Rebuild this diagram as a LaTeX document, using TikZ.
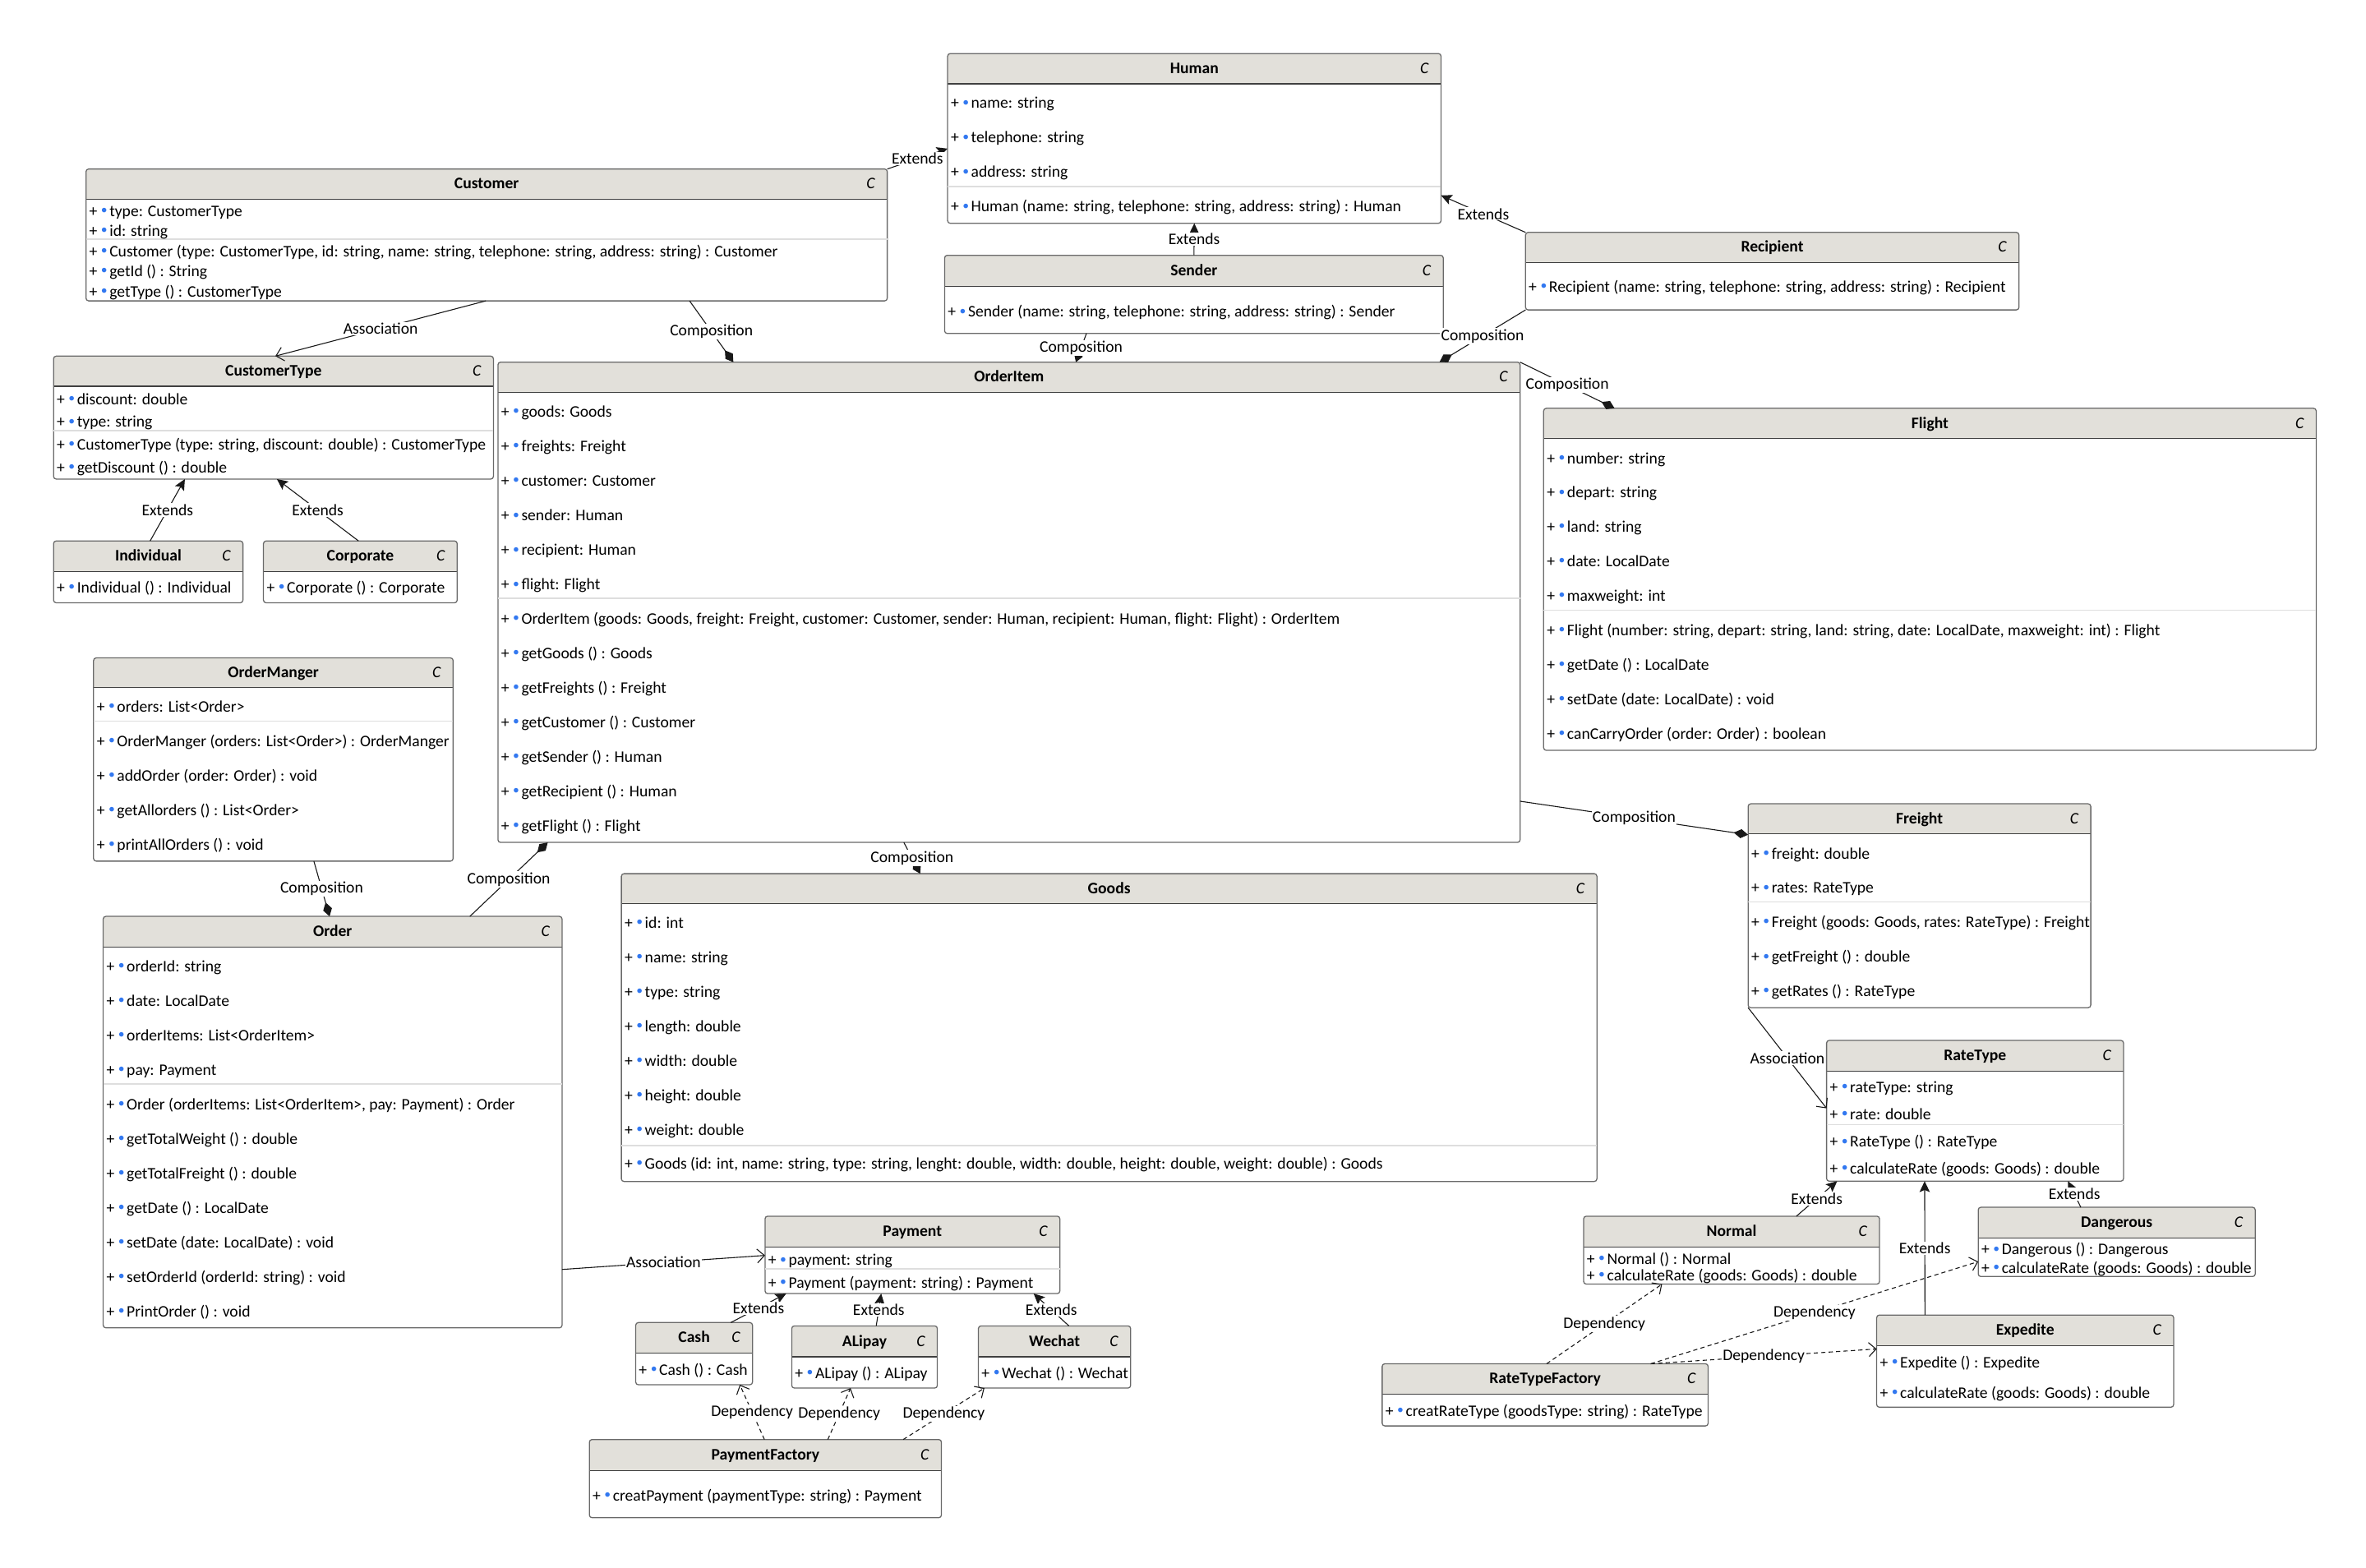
\documentclass[tikz,border=0pt]{standalone}
\usepackage{graphicx}
\usepackage{fontspec}
\setmainfont{Carlito}
\usetikzlibrary{arrows.meta,calc,fit}
\definecolor{headfill}{RGB}{226,224,218}
\definecolor{framegray}{RGB}{105,105,105}
\definecolor{rulegray}{RGB}{222,222,222}
\definecolor{dotblue}{RGB}{50,120,240}
\definecolor{wiregray}{RGB}{25,25,25}
\newcommand{\umlfont}{\fontsize{15.2}{18}\selectfont}
\newcommand{\pub}{+\hspace{3.5pt}\textcolor{dotblue}{\raisebox{0.3ex}{\scalebox{0.8}{\textbullet}}}\hspace{2pt}}
\newcommand{\umlbox}[7]{%
  \begin{scope}
  \clip[rounded corners=2.5pt] (#2,#3) rectangle (#4,#5);
  \fill[headfill] (#2,#3) rectangle (#4,#6);
  \end{scope}
  \draw[headrule] (#2,#6) -- (#4,#6);
  \node[classframe,fit={(#2,#3) (#4,#5)}] (#1) {};
  \node[classtitle] (#1-title) at ({(#2+#4)/2},{(#3+#6)/2+3.2}) {#7};
  \node[classmark] (#1-mark) at (#4-11,{(#3+#6)/2+3.2}) {C};}
\newcommand{\members}[3]{%
  \foreach \yy/\txt [count=\k] in {#3}{\node[member] (#1-m\k) at (#2+2,\yy+3.2) {\pub\txt};}}

\begin{document}
\begin{tikzpicture}[x=0.5mm,y=-0.5mm,font=\umlfont,
  classframe/.style={draw=framegray,line width=0.35mm,rounded corners=2.5pt,inner sep=0pt,outer sep=0pt},
  headrule/.style={draw=black!75,line width=0.35mm},
  seprule/.style={draw=rulegray,line width=0.45mm},
  classtitle/.style={anchor=base,inner sep=0pt,font=\umlfont\bfseries},
  classmark/.style={anchor=base,inner sep=0pt,font=\umlfont\itshape},
  member/.style={anchor=base west,inner sep=0pt},
  wire/.style={draw=wiregray,line width=0.3mm},
  extends/.style={wire,-{Stealth[length=3.6mm,width=3.4mm,inset=0.7mm]}},
  assoc/.style={wire,-{Straight Barb[length=2.4mm,width=4.6mm]}},
  compo/.style={wire,-{Diamond[length=4.8mm,width=3mm]}},
  depend/.style={wire,dash pattern=on 4pt off 3pt,-{Straight Barb[length=2.4mm,width=4.6mm]}},
  lab/.style={fill=white,inner sep=1pt}]
\useasboundingbox (0,0) rectangle (1568,1039);

% people and customers
\umlbox{human}{628}{35.5}{955}{148}{55.5}{Human}
\draw[seprule] (628,123.8) -- (955,123.8);
\members{human}{628}{68.6/{name: string},91.5/{telephone: string},114.4/{address: string},137.3/{Human (name: string, telephone: string, address: string) : Human}}
\umlbox{customer}{57}{112}{588}{199.4}{132}{Customer}
\draw[seprule] (57,158.5) -- (588,158.5);
\members{customer}{57}{140.4/{type: CustomerType},153.3/{id: string},167/{Customer (type: CustomerType, id: string, name: string, telephone: string, address: string) : Customer},180/{getId () : String},193.6/{getType () : CustomerType}}
\umlbox{sender}{626}{169.2}{956.5}{221}{189.7}{Sender}
\members{sender}{626}{207/{Sender (name: string, telephone: string, address: string) : Sender}}
\umlbox{recipient}{1011}{154}{1338}{205.4}{174}{Recipient}
\members{recipient}{1011}{190.4/{Recipient (name: string, telephone: string, address: string) : Recipient}}
\umlbox{customertype}{35.5}{236}{327}{317.5}{256}{CustomerType}
\draw[seprule] (35.5,285.5) -- (327,285.5);
\members{customertype}{35.5}{264.8/{discount: double},280/{type: string},295/{CustomerType (type: string, discount: double) : CustomerType},310/{getDiscount () : double}}
\umlbox{individual}{35.5}{358.5}{161}{399.5}{378.6}{Individual}
\members{individual}{35.5}{389.7/{Individual () : Individual}}
\umlbox{corporate}{174.6}{358.5}{303}{399.5}{378.6}{Corporate}
\members{corporate}{174.6}{389.7/{Corporate () : Corporate}}

% orders
\umlbox{orderitem}{330}{240}{1007.4}{558.3}{260}{OrderItem}
\draw[seprule] (330,396.5) -- (1007.4,396.5);
\members{orderitem}{330}{273.3/{goods: Goods},296.2/{freights: Freight},319.1/{customer: Customer},342/{sender: Human},364.9/{recipient: Human},387.8/{flight: Flight},410.4/{OrderItem (goods: Goods, freight: Freight, customer: Customer, sender: Human, recipient: Human, flight: Flight) : OrderItem},433.3/{getGoods () : Goods},456.2/{getFreights () : Freight},479.1/{getCustomer () : Customer},502/{getSender () : Human},524.9/{getRecipient () : Human},547.8/{getFlight () : Flight}}
\umlbox{flight}{1023}{270.6}{1535}{497.3}{290.6}{Flight}
\draw[seprule] (1023,404.4) -- (1535,404.4);
\members{flight}{1023}{304/{number: string},326.8/{depart: string},349.4/{land: string},372.3/{date: LocalDate},395/{maxweight: int},418.2/{Flight (number: string, depart: string, land: string, date: LocalDate, maxweight: int) : Flight},441/{getDate () : LocalDate},463.9/{setDate (date: LocalDate) : void},486.8/{canCarryOrder (order: Order) : boolean}}
\umlbox{ordermanger}{62}{436}{300.3}{570.7}{455.5}{OrderManger}
\draw[seprule] (62,478) -- (300.3,478);
\members{ordermanger}{62}{468.5/{orders: List<Order>},491.6/{OrderManger (orders: List<Order>) : OrderManger},514.4/{addOrder (order: Order) : void},537.2/{getAllorders () : List<Order>},560/{printAllOrders () : void}}
\umlbox{order}{68.4}{607.3}{372.5}{880}{627.7}{Order}
\draw[seprule] (68.4,718.3) -- (372.5,718.3);
\members{order}{68.4}{640.9/{orderId: string},663.7/{date: LocalDate},686.6/{orderItems: List<OrderItem>},709.4/{pay: Payment},732.1/{Order (orderItems: List<OrderItem>, pay: Payment) : Order},755/{getTotalWeight () : double},777.9/{getTotalFreight () : double},800.7/{getDate () : LocalDate},823.6/{setDate (date: LocalDate) : void},846.5/{setOrderId (orderId: string) : void},869.4/{PrintOrder () : void}}
\umlbox{goods}{411.8}{579}{1058.3}{783}{599}{Goods}
\draw[seprule] (411.8,759.3) -- (1058.3,759.3);
\members{goods}{411.8}{611.7/{id: int},634.6/{name: string},657.5/{type: string},680.4/{length: double},703.3/{width: double},726.2/{height: double},749/{weight: double},771.7/{Goods (id: int, name: string, type: string, lenght: double, width: double, height: double, weight: double) : Goods}}

% freight and rates
\umlbox{freight}{1158.5}{532.7}{1385.6}{667.8}{552.6}{Freight}
\draw[seprule] (1158.5,597.7) -- (1385.6,597.7);
\members{freight}{1158.5}{566/{freight: double},588.8/{rates: RateType},611.5/{Freight (goods: Goods, rates: RateType) : Freight},634.5/{getFreight () : double},657.2/{getRates () : RateType}}
\umlbox{ratetype}{1210.5}{689.5}{1407.3}{782.8}{709.9}{RateType}
\draw[seprule] (1210.5,745.3) -- (1407.3,745.3);
\members{ratetype}{1210.5}{721/{rateType: string},739/{rate: double},757/{RateType () : RateType},774.9/{calculateRate (goods: Goods) : double}}
\umlbox{normal}{1049.5}{806}{1245.6}{851}{826.4}{Normal}
\members{normal}{1049.5}{834.6/{Normal () : Normal},845.7/{calculateRate (goods: Goods) : double}}
\umlbox{dangerous}{1311}{800.1}{1494.6}{846}{820.3}{Dangerous}
\members{dangerous}{1311}{828.4/{Dangerous () : Dangerous},840.6/{calculateRate (goods: Goods) : double}}
\umlbox{expedite}{1243.7}{871.5}{1440.5}{932.6}{892}{Expedite}
\members{expedite}{1243.7}{903.2/{Expedite () : Expedite},923.6/{calculateRate (goods: Goods) : double}}
\umlbox{ratetypefactory}{916}{903.8}{1132}{945}{924.1}{RateTypeFactory}
\members{ratetypefactory}{916}{935.5/{creatRateType (goodsType: string) : RateType}}

% payments
\umlbox{payment}{507}{806}{702.4}{857.3}{826.6}{Payment}
\draw[seprule] (507,841) -- (702.4,841);
\members{payment}{507}{835.5/{payment: string},850.6/{Payment (payment: string) : Payment}}
\umlbox{cash}{421.3}{876.5}{498.7}{917.7}{896.9}{Cash}
\members{cash}{421.3}{908.1/{Cash () : Cash}}
\umlbox{alipay}{524.7}{878.7}{621.2}{919.9}{899.2}{ALipay}
\members{alipay}{524.7}{910.5/{ALipay () : ALipay}}
\umlbox{wechat}{648.4}{878.7}{749.3}{919.9}{899.2}{Wechat}
\members{wechat}{648.4}{910.5/{Wechat () : Wechat}}
\umlbox{paymentfactory}{390.6}{954}{623.9}{1005.8}{974.6}{PaymentFactory}
\members{paymentfactory}{390.6}{991.3/{creatPayment (paymentType: string) : Payment}}

% connectors
\draw[extends] (customer.north east) -- node[lab] {Extends} ($(human.north west)+(0,63)$);
\draw[extends] (sender.north) -- node[lab] {Extends} (human.south);
\draw[extends] (recipient.north west) -- node[lab] {Extends} ($(human.north east)+(0,94)$);
\draw[assoc] ($(customer.south west)+(265,0)$) -- node[lab] {Association} ($(customertype.north west)+(147,0)$);
\draw[extends] ($(individual.north west)+(64,0)$) -- node[lab] {Extends} ($(customertype.south west)+(87,0)$);
\draw[extends] ($(corporate.north west)+(63,0)$) -- node[lab] {Extends} ($(customertype.south west)+(148,0)$);
\draw[compo] ($(customer.south west)+(400,0)$) -- node[lab] {Composition} ($(orderitem.north west)+(156,0)$);
\draw[compo] ($(sender.south west)+(94,0)$) -- node[lab] {Composition} ($(orderitem.north west)+(383,0)$);
\draw[compo] (recipient.south west) -- node[lab] {Composition} ($(orderitem.north west)+(624,0)$);
\draw[compo] (orderitem.north east) -- node[lab] {Composition} ($(flight.north west)+(47,0)$);
\draw[compo] ($(orderitem.north east)+(0,291)$) -- node[lab] {Composition} ($(freight.north west)+(0,20.5)$);
\draw[compo] ($(orderitem.south west)+(269,0)$) -- node[lab] {Composition} ($(goods.north west)+(198,0)$);
\draw[compo] ($(order.north west)+(243,0)$) -- node[lab] {Composition} ($(orderitem.south west)+(33,0)$);
\draw[compo] ($(ordermanger.south west)+(146,0)$) -- node[lab] {Composition} ($(order.north west)+(150,0)$);
\draw[assoc] ($(order.north east)+(0,234)$) -- node[lab] {Association} ($(payment.north west)+(0,26)$);
\draw[extends] ($(cash.north west)+(63,0)$) -- node[lab] {Extends} ($(payment.south west)+(14,0)$);
\draw[extends] ($(alipay.north west)+(56,0)$) -- node[lab] {Extends} ($(payment.south west)+(77,0)$);
\draw[extends] ($(wechat.north west)+(60,0)$) -- node[lab] {Extends} ($(payment.south west)+(178,0)$);
\draw[depend] ($(paymentfactory.north west)+(116,0)$) -- node[lab] {Dependency} ($(cash.south west)+(69,0)$);
\draw[depend] ($(paymentfactory.north west)+(158,0)$) -- node[lab] {Dependency} ($(alipay.south west)+(39,0)$);
\draw[depend] ($(paymentfactory.north west)+(208,0)$) -- node[lab] {Dependency} ($(wechat.south west)+(4,0)$);
\draw[assoc] (freight.south west) -- node[lab] {Association} ($(ratetype.north west)+(0,45)$);
\draw[extends] ($(normal.north west)+(141,0)$) -- node[lab] {Extends} ($(ratetype.south west)+(7,0)$);
\draw[extends] ($(dangerous.north west)+(68,0)$) -- node[lab] {Extends} ($(ratetype.south west)+(160,0)$);
\draw[extends] ($(expedite.north west)+(32,0)$) -- node[lab] {Extends} ($(ratetype.south west)+(65,0)$);
\draw[depend] ($(ratetypefactory.north west)+(109,0)$) -- node[lab] {Dependency} ($(normal.south west)+(52,0)$);
\draw[depend] ($(ratetypefactory.north west)+(178,0)$) -- node[lab] {Dependency} ($(dangerous.north west)+(0,36)$);
\draw[depend] ($(ratetypefactory.north west)+(178,0)$) -- node[lab] {Dependency} ($(expedite.north west)+(0,22.5)$);
\end{tikzpicture}
\end{document}
